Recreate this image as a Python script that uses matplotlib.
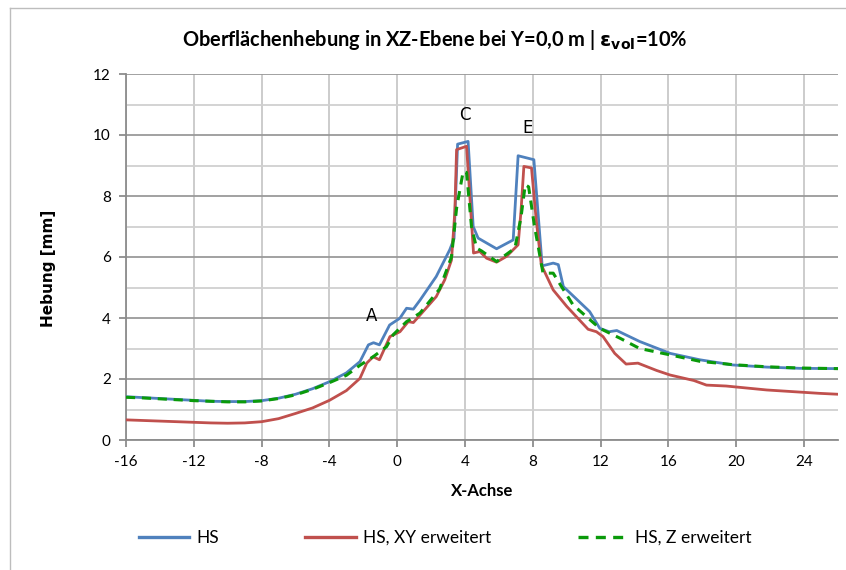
import matplotlib.pyplot as plt
from matplotlib.lines import Line2D
from matplotlib.ticker import MultipleLocator

# Hebung entlang der X-Achse (Y = 0,0 m)
x_hs = [-16, -15, -14, -13, -12, -11, -10, -9, -8, -7, -6, -5, -4, -3, -2.2, -1.7, -1.4, -1.05, -0.45, 0.15,
        0.55, 0.95, 1.35, 2.3, 3.1, 3.35, 3.56, 4.18, 4.48, 4.77, 5.86, 6.84, 7.13, 8.06, 8.55, 9.2, 9.5, 9.8,
        11.35, 11.95, 12.5, 12.95, 14.3, 16.1, 17.85, 19.8, 21.8, 23.75, 26]
y_hs = [1.42, 1.39, 1.36, 1.33, 1.30, 1.27, 1.26, 1.26, 1.29, 1.37, 1.50, 1.68, 1.91, 2.2, 2.57, 3.12, 3.19,
        3.12, 3.77, 3.99, 4.32, 4.29, 4.59, 5.36, 6.24, 6.6, 9.7, 9.79, 7.0, 6.62, 6.27, 6.56, 9.32, 9.19, 5.71,
        5.8, 5.75, 5.03, 4.21, 3.66, 3.55, 3.59, 3.23, 2.84, 2.63, 2.46, 2.39, 2.35, 2.34]

x_xy = [-16, -15, -14, -13, -12, -11, -10, -9, -8, -7, -6, -5, -4, -3, -2.2, -1.8, -1.42, -1.05, -0.43, 0.16,
        0.65, 0.95, 1.35, 2.3, 2.8, 3.2, 3.4, 3.5, 4.09, 4.5, 4.87, 5.27, 5.86, 6.45, 7.13, 7.3, 7.47, 7.92,
        8.2, 8.5, 9.2, 10.0, 11.26, 11.75, 12.14, 12.83, 13.5, 14.2, 15.3, 16.1, 17.5, 18.24, 19.4, 21.8,
        24.9, 26]
y_xy = [0.66, 0.64, 0.62, 0.60, 0.58, 0.56, 0.55, 0.56, 0.60, 0.70, 0.87, 1.05, 1.30, 1.62, 2.02, 2.52, 2.73,
        2.63, 3.39, 3.55, 3.88, 3.85, 4.1, 4.7, 5.25, 5.9, 7.5, 9.52, 9.63, 6.13, 6.18, 5.96, 5.83, 6.02,
        6.4, 7.5, 8.97, 8.92, 7.2, 5.74, 4.92, 4.38, 3.63, 3.55, 3.39, 2.84, 2.49, 2.52, 2.28, 2.13, 1.95,
        1.8, 1.77, 1.64, 1.53, 1.5]

x_z = [-16, -15, -14, -13, -12, -11, -10, -9, -8, -7, -6, -5, -4, -3, -2.2, -1.42, -0.63, -0.24, 0.55,
       1.34, 2.5, 3.2, 3.5, 3.89, 4.09, 4.38, 4.68, 4.97, 5.86, 6.94, 7.3, 7.55, 7.75, 8.1, 8.6, 9.2, 9.69,
       10.37, 11.95, 13.13, 14.3, 16.1, 17.85, 19.8, 21.8, 23.75, 26]
y_z = [1.40, 1.38, 1.35, 1.32, 1.29, 1.27, 1.25, 1.25, 1.28, 1.36, 1.48, 1.66, 1.88, 2.12, 2.45, 2.73, 3.06,
       3.45, 3.88, 4.16, 4.95, 6.0, 7.6, 8.81, 8.77, 7.0, 6.29, 6.2, 5.85, 6.29, 7.3, 8.37, 8.3, 7.0, 5.47,
       5.47, 5.03, 4.43, 3.66, 3.34, 3.0, 2.79, 2.58, 2.47, 2.4, 2.36, 2.34]

# Beschriftete Punkte
point_labels = ["A", "C", "E"]
point_x = [-1.5, 4.0, 7.7]
point_y = [4.05, 10.67, 10.24]

plt.rcParams['font.family'] = ['Lato', 'DejaVu Sans']
plt.rcParams['axes.unicode_minus'] = False

fig = plt.figure(figsize=(8.46, 5.70), dpi=100)
ax = fig.add_axes([126 / 846, 1 - 440 / 570, (838 - 126) / 846, (440 - 74) / 570])

ax.plot(x_hs, y_hs, color='#4F81BD', lw=2.0, label='HS', zorder=3)
ax.plot(x_xy, y_xy, color='#C0504D', lw=2.0, label='HS, XY erweitert', zorder=4)
ax.plot(x_z, y_z, color='#0A9A0A', lw=2.2, ls=(0, (3, 2.2)), label='HS, Z erweitert', zorder=5)

for lab, px, py in zip(point_labels, point_x, point_y):
    ax.text(px, py, lab, ha='center', va='center', fontsize=12, family='DejaVu Sans')

ax.set_xlim(-16, 26)
ax.set_ylim(0, 12)
ax.xaxis.set_major_locator(MultipleLocator(4))
ax.yaxis.set_major_locator(MultipleLocator(2))
ax.yaxis.set_minor_locator(MultipleLocator(1))

ax.grid(axis='x', which='major', color='#c8c8c8', lw=1.3)
ax.grid(axis='y', which='major', color='#9a9a9a', lw=1.3)
ax.grid(axis='y', which='minor', color='#d0d0d0', lw=1.3)
ax.set_axisbelow(True)

for side in ['top', 'right']:
    ax.spines[side].set_visible(False)
for side in ['left', 'bottom']:
    ax.spines[side].set_color('#8c8c8c')
    ax.spines[side].set_linewidth(1.3)

ax.tick_params(axis='both', which='major', direction='out', length=5, width=1.3, color='#8c8c8c',
               labelsize=11, pad=6)
ax.tick_params(axis='y', which='minor', length=0)

ax.set_xlabel('X-Achse', fontsize=12, fontweight='bold', labelpad=10)
ax.set_ylabel('Hebung [mm]', fontsize=11, fontweight='bold', family='DejaVu Sans')
ax.yaxis.set_label_coords(-0.098, 0.47)

fig.text(0.514, 1 - 40 / 570, r'Oberflächenhebung in XZ-Ebene bei Y=0,0 m | $\mathbf{\epsilon}_{\mathbf{vol}}$=10%',
         ha='center', va='center', fontsize=14.4, fontweight='bold')

handles = [Line2D([], [], color='#4F81BD', lw=2.4),
           Line2D([], [], color='#C0504D', lw=2.4),
           Line2D([], [], color='#0A9A0A', lw=2.4, ls=(0, (3, 2.2)))]
fig.legend(handles, ['HS', 'HS, XY erweitert', 'HS, Z erweitert'], loc='center',
           bbox_to_anchor=(0.526, 1 - 538 / 570), ncol=3, frameon=False, fontsize=12.5,
           handlelength=2.9, handletextpad=0.4, columnspacing=5.0)

# Rahmen um das Diagramm
fig.add_artist(Line2D([10 / 846, 10 / 846], [0, 1 - 8 / 570], color='#bdbdbd', lw=1,
                      transform=fig.transFigure))
fig.add_artist(Line2D([10 / 846, 1], [1 - 8 / 570, 1 - 8 / 570], color='#bdbdbd', lw=1,
                      transform=fig.transFigure))

fig.savefig('out.png', dpi=100, facecolor='white')
